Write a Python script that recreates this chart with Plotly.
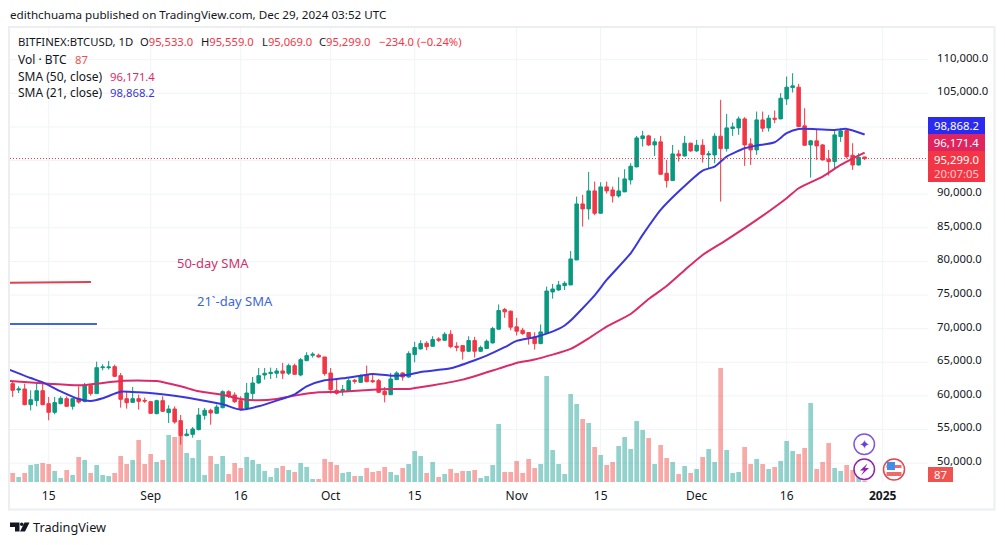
import datetime as dt
import plotly.graph_objects as go

W, H = 1005, 545
START = dt.datetime(2024, 8, 9)

opens = [61820,60880,61030,58700,59290,60780,58850,57560,58850,59590,58450,59640,59190,61530,60340,64200,64200,64350,63010,59590,
59040,59590,59340,59140,57360,59290,57510,58050,56320,54090,54280,54980,57110,57860,57410,58250,60630,60140,59290,58200,
60340,61920,63110,63310,63360,63710,63360,64500,63110,65250,66040,66040,65790,63410,60830,60780,60680,62320,62020,63110,
62270,62270,60680,60180,62420,63410,62810,66140,66990,67830,67380,68480,68280,69170,67390,67480,66640,68230,66640,67040,
67880,69920,72850,72600,70270,69770,69420,68780,67780,69300,75460,75750,76400,76500,80220,88550,87810,90490,87160,91080,
90630,89740,90340,92120,94060,98270,98670,97330,97780,93110,92020,95990,95690,97580,96440,97280,95840,95840,98620,96780,
99760,99860,101200,97480,96590,101050,99860,101300,101200,104170,105860,105910,100160,97330,97930,97330,95200,94850,98570,99460,
95790,94350,95533]
highs = [62170,61430,61820,60830,61770,61770,59840,59840,59940,59940,59690,61430,61920,61670,65100,64700,65200,64650,63410,60680,
61330,60190,59740,59190,59440,59940,58600,58450,57160,55080,55370,58200,58200,58100,58700,60830,60830,60530,59940,61920,
62820,64150,64150,64200,64150,64900,64800,64800,65640,66490,66490,66290,65790,64150,62420,61620,62615,62520,63210,64500,
63310,62520,61320,63410,63660,63510,66640,68030,68280,68130,68880,68730,69470,69770,67980,67480,68880,68780,67480,68380,
70270,73600,73100,72700,71610,70120,69470,69470,70620,76250,76650,77100,77050,81560,89640,89890,93310,91870,91775,91870,
91130,92520,93710,94600,98670,99410,98820,98320,98670,95100,97330,96590,98670,97680,98070,98170,96440,99070,104030,101940,
100650,101550,101450,98320,102290,102290,101790,102440,105020,107500,107990,106410,102790,98070,99560,97430,96590,99560,99810,99810,
97580,96090,95559]
lows = [59840,60430,58600,57850,58450,58600,56370,57260,58750,58350,57950,58850,59040,60040,60340,63810,63910,62810,58250,58100,
58990,57950,58950,57360,57260,57610,55970,55870,52750,53990,53790,54880,56470,55720,57360,58150,59690,58950,57860,57860,
59440,61820,62420,62520,62670,62520,63110,63160,62910,65150,65690,65690,63010,60340,60180,60030,60580,61820,61920,62020,
61920,60430,59040,60130,62370,62270,62710,65000,66890,66790,67290,68030,68180,67090,66640,65400,66540,65700,66540,66990,
67780,69870,71610,69770,68975,69080,67630,66890,67680,69210,74460,75650,75750,76500,80220,85180,86220,86860,87110,90090,
88750,89490,90340,91430,94010,97080,97180,95690,92870,90980,91970,94850,95590,96290,96290,94700,93860,94600,88900,96340,
98670,98820,94210,94350,95840,99260,99310,100560,101150,103280,105120,99960,97180,92470,95100,95000,92770,93710,97780,95340,
93610,94250,95069]
closes = [60830,61030,58700,59440,60780,58700,57560,59000,59640,58450,59590,59090,61530,60340,64200,64300,64300,62910,59490,58990,
59590,59190,59240,57410,59290,57710,58050,56120,54090,54330,55080,57160,57860,57460,58350,60630,59940,59140,58050,60430,
61920,63010,63360,63510,63710,63360,64500,63210,65390,65990,66190,65790,63310,60930,60380,60930,62265,62170,63010,62120,
62120,60530,60180,62520,63410,62810,66290,67190,67780,67330,68380,68280,69170,67340,67240,66640,68230,66640,67190,68130,
70020,72700,72500,70220,69620,69270,68730,67780,69520,75600,75900,76500,76750,80370,88550,87810,90490,87160,91080,90490,
89740,90490,92270,94150,98370,98670,97330,97780,92970,92020,95990,95690,97580,96440,97280,95890,95990,98620,96780,99860,
100010,101200,97330,96590,101050,99810,101300,101150,104270,105910,106110,100060,97280,97930,97180,95100,94850,98820,99410,95590,
94350,95490,95299]
volumes = [540,300,540,1020,1080,1140,1080,660,240,720,420,1500,1320,540,1020,420,360,540,1560,1080,1320,2520,1080,1680,1200,1320,2820,2700,2760,1740,1440,2520,420,1560,1080,1560,480,1140,840,1500,1320,1080,660,300,840,960,720,600,1140,900,180,180,1380,1200,1020,
540,600,360,360,840,600,660,900,600,420,840,1080,1860,1560,540,1200,300,480,780,540,660,660,720,240,360,1020,3480,600,600,1260,540,1380,840,1080,6360,1920,1080,480,5280,4680,3780,3540,2100,1620,1020,
1200,2160,2700,1980,3660,3120,2640,1080,2220,1440,1200,480,960,540,780,1500,1980,1200,6840,1920,540,600,2100,1080,1380,1080,780,900,1260,2460,1860,1680,2040,4740,780,1200,2340,840,660,1020,720,420,87]

sma21_day = [-1,3,5,8,11,13,15,17,18,21,26,31,35,38,41,44,47,49,52,55,58,60,63,66,68,73,77,79,82,84,87,89,91,92,93,97,99,103,105,108,111,115,117,119,122,124,127,129,131,134,137,139,142]
sma21_val = [64050,62660,62020,60680,59540,59240,59640,60340,60630,60530,60140,59440,58750,57950,58450,59290,60240,61430,62320,62615,63010,63260,63010,63160,63560,64100,65300,65990,67240,68180,68730,69270,69970,70470,71200,74960,77240,81210,83940,87660,90390,93510,94110,95600,96830,97230,97730,99070,99710,99660,99560,99710,98868]
sma50_day = [-1,6,11,15,18,22,24,28,31,35,38,41,44,47,51,54,56,60,63,66,69,75,81,84,87,93,96,99,103,106,109,112,115,119,124,129,131,135,138,140,142]
sma50_val = [62270,61820,61570,61920,62220,62270,62220,61430,60680,60180,59540,59340,59540,60040,60530,60580,60680,60925,61025,61025,61420,62420,64055,64900,65400,66990,68560,70300,72180,74400,76350,78700,80960,83200,86170,89400,90880,92620,94350,95300,96171]

price_ticks = [110000,105000,90000,85000,80000,75000,70000,65000,60000,55000,50000]
price_grid = [110000,105000,100000,95000,90000,85000,80000,75000,70000,65000,60000,55000,50000]
time_ticks = ["2024-08-15","2024-09-01","2024-09-16","2024-10-01","2024-10-15","2024-11-01","2024-11-15","2024-12-01","2024-12-16","2025-01-01"]
time_labels = ["15","Sep","16","Oct","15","Nov","15","Dec","16","<b>2025</b>"]

GREEN, RED = "#089981", "#f23645"
BLUE, CRIMSON = "#3a35dc", "#dc2a68"
INK = "#131722"
FONT = "Noto Sans"


def day(i):
    return START + dt.timedelta(days=i)


def px(x):
    return x / W


def py(y):
    return 1 - y / H


dates = [day(i) for i in range(len(closes))]
vol_colors = ["rgba(239,83,80,0.5)" if c < o else "rgba(38,166,154,0.5)" for o, c in zip(opens, closes)]

fig = go.Figure()
fig.add_trace(go.Bar(x=dates, y=volumes, marker=dict(color=vol_colors, line_width=0),
                     width=0.78 * 86400000, yaxis="y", hoverinfo="skip"))
fig.add_trace(go.Candlestick(
    x=dates, open=opens, high=highs, low=lows, close=closes, yaxis="y2", whiskerwidth=0, hoverinfo="skip",
    increasing=dict(line=dict(color=GREEN, width=1), fillcolor=GREEN),
    decreasing=dict(line=dict(color=RED, width=1), fillcolor=RED)))
fig.add_trace(go.Scatter(x=[day(i) for i in sma50_day], y=sma50_val, mode="lines", yaxis="y2", hoverinfo="skip",
                         line=dict(color=CRIMSON, width=2, shape="spline", smoothing=0.6)))
fig.add_trace(go.Scatter(x=[day(i) for i in sma21_day], y=sma21_val, mode="lines", yaxis="y2", hoverinfo="skip",
                         line=dict(color=BLUE, width=2, shape="spline", smoothing=0.6)))
# hand-drawn trend lines
fig.add_trace(go.Scatter(x=[day(-1), day(13.05)], y=[76830, 76940], mode="lines", yaxis="y2", hoverinfo="skip",
                         line=dict(color="#e0404f", width=2)))
fig.add_trace(go.Scatter(x=[day(-1), day(14.05)], y=[70700, 70700], mode="lines", yaxis="y2", hoverinfo="skip",
                         line=dict(color="#3f68e0", width=2)))

ann = []


def txt(x, y, text, color=INK, size=11.3, anchor="left"):
    ann.append(dict(x=px(x), y=py(y), xref="paper", yref="paper", text=text, showarrow=False, xanchor=anchor,
                    yanchor="middle", font=dict(family=FONT, size=size, color=color), borderpad=0, borderwidth=0))


def tag(y0, y1, color, lines, x0=928, x1=985):
    ann.append(dict(x=px(x0), y=py(y1), xref="paper", yref="paper", text=lines, showarrow=False, xanchor="left",
                    yanchor="bottom", width=x1 - x0, height=y1 - y0, bgcolor=color, align="center", valign="middle",
                    borderpad=0, borderwidth=0, font=dict(family=FONT, size=11.3, color="white")))


txt(10, 14.5, "edithchuama published on TradingView.com, Dec 29, 2024 03:52 UTC", size=11.65)
txt(18, 41.5, "BITFINEX:BTCUSD, 1D")
for x, lab, val in [(140, "O", "95,533.0"), (201, "H", "95,559.0"), (262, "L", "95,069.0"), (319, "C", "95,299.0")]:
    txt(x, 41.5, lab + f'<span style="color:{RED}">{val}</span>', size=11.2)
txt(379, 41.5, "−234.0 (−0.24%)", RED, 11.2)
txt(18, 59, "Vol · BTC", size=12)
txt(75, 59, "87", "#ef5350")
txt(18, 76, "SMA (50, close)", size=12)
txt(110, 76, "96,171.4", CRIMSON)
txt(18, 93, "SMA (21, close)", size=12)
txt(110, 93, "98,868.2", BLUE)
ann.append(dict(x=day(33.4), y=79810, xref="x", yref="y2", text="50-day SMA", showarrow=False,
                font=dict(family=FONT, size=13, color="#d0306a")))
ann.append(dict(x=day(37.1), y=74110, xref="x", yref="y2", text="21`-day SMA", showarrow=False,
                font=dict(family=FONT, size=13, color="#3d66d6")))
tag(117.3, 134, "#2a2af0", "98,868.2")
tag(134, 150.7, "#e0245e", "96,171.4")
tag(150.7, 181.7, RED, '95,299.0<br><span style="color:#fcc">20:07:05</span>')
tag(467, 482, "#ef5350", "87", x1=953)
txt(33, 527, "TradingView", INK, 12.7)
txt(864.3, 444.3, "✦", "#6a3fd8", 13, "center")

shapes = [
    dict(type="rect", xref="paper", yref="paper", x0=px(9), x1=px(994.5), y0=py(27), y1=py(509.5),
         line=dict(color="#eceef2", width=2), layer="below"),
    dict(type="line", xref="paper", yref="y2", x0=px(10), x1=px(928), y0=closes[-1], y1=closes[-1],
         line=dict(color=RED, width=1, dash="1px,2px")),
    dict(type="circle", xref="paper", yref="paper", x0=px(854), x1=px(874.5), y0=py(434), y1=py(454.5),
         line=dict(color="#7e57e0", width=1.5), fillcolor="white"),
    dict(type="circle", xref="paper", yref="paper", x0=px(854), x1=px(874.5), y0=py(459), y1=py(479.5),
         line=dict(color="#8e24aa", width=1.5), fillcolor="white"),
    dict(type="path", xref="paper", yref="paper", line_width=0, fillcolor="#8e24aa",
         path=f"M {px(867.5)} {py(463.5)} L {px(860)} {py(470.5)} L {px(864)} {py(470.5)} L {px(861)} {py(475.5)} "
              f"L {px(869)} {py(468)} L {px(865)} {py(468)} Z"),
    dict(type="circle", xref="paper", yref="paper", x0=px(883.5), x1=px(904.5), y0=py(459), y1=py(480),
         line=dict(color="#e0474c", width=1.5), fillcolor="white"),
    dict(type="rect", xref="paper", yref="paper", x0=px(886.5), x1=px(901.5), y0=py(465), y1=py(468),
         line_width=0, fillcolor="#ef6a6a"),
    dict(type="rect", xref="paper", yref="paper", x0=px(886.5), x1=px(901.5), y0=py(472), y1=py(476),
         line_width=0, fillcolor="#ef6a6a"),
    dict(type="rect", xref="paper", yref="paper", x0=px(887), x1=px(895), y0=py(462), y1=py(470),
         line_width=0, fillcolor="#3f8fe8"),
    # TradingView logo
    dict(type="path", xref="paper", yref="paper", line_width=0, fillcolor=INK,
         path=f"M {px(10)} {py(522.5)} L {px(19.5)} {py(522.5)} L {px(19.5)} {py(531.5)} L {px(15)} {py(531.5)} "
              f"L {px(15)} {py(527)} L {px(10)} {py(527)} Z"),
    dict(type="circle", xref="paper", yref="paper", line_width=0, fillcolor=INK,
         x0=px(20), x1=px(23.5), y0=py(522.5), y1=py(526)),
    dict(type="path", xref="paper", yref="paper", line_width=0, fillcolor=INK,
         path=f"M {px(24.5)} {py(522.5)} L {px(29.5)} {py(522.5)} L {px(25)} {py(531.5)} L {px(20)} {py(531.5)} Z"),
]
for t in time_ticks:
    shapes.append(dict(type="line", xref="x", yref="paper", x0=t, x1=t, y0=py(483), y1=py(28),
                       line=dict(color="#f0f3fa", width=1), layer="below"))
for v in price_grid:
    shapes.append(dict(type="line", xref="paper", yref="y2", x0=px(10), x1=px(928), y0=v, y1=v,
                       line=dict(color="#f0f3fa", width=1), layer="below"))

domain_y = [py(483), py(28)]
fig.update_layout(
    width=W, height=H, autosize=False, showlegend=False, paper_bgcolor="white", plot_bgcolor="rgba(0,0,0,0)",
    margin=dict(l=0, r=0, t=0, b=0), boxgap=0.42, boxgroupgap=0, annotations=ann, shapes=shapes,
    font=dict(family=FONT, size=12, color=INK),
    xaxis=dict(domain=[px(10), px(928)], type="date", range=[day(-0.445), day(152.56)], tickmode="array",
               tickvals=time_ticks, ticktext=time_labels, showgrid=False, zeroline=False, showline=False, ticks="",
               rangeslider=dict(visible=False), tickfont=dict(family=FONT, size=12, color=INK), ticklabelstandoff=4),
    yaxis=dict(domain=domain_y, range=[-60, 27240], visible=False, fixedrange=True),
    yaxis2=dict(overlaying="y", side="right", anchor="x", range=[47046, 114716], tickmode="array",
                tickvals=price_ticks, ticktext=[f"{v:,.1f}" for v in price_ticks], showgrid=False, zeroline=False,
                showline=False, ticks="", tickfont=dict(family=FONT, size=11.3, color=INK), ticklabelstandoff=8,
                ticklabelshift=-2),
)
fig.write_html("out.html", config=dict(displayModeBar=False),
               post_script="document.body.style.margin='0';document.body.style.overflow='hidden';")
